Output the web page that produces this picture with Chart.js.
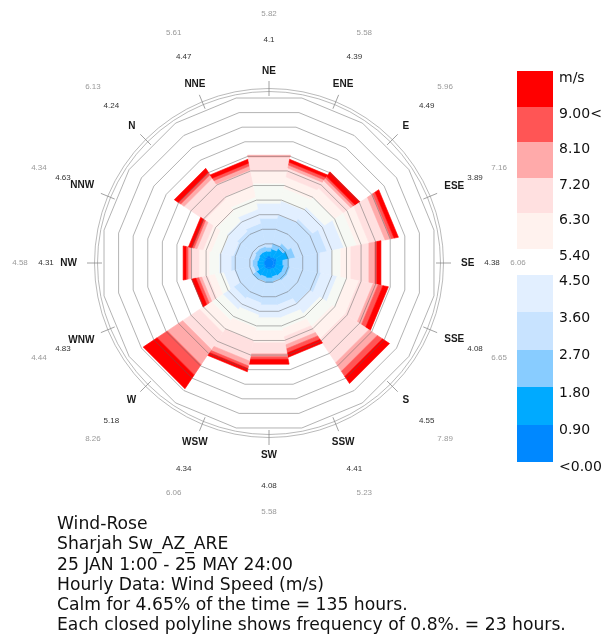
<!DOCTYPE html>
<html>
<head>
<meta charset="utf-8">
<script src="https://cdn.jsdelivr.net/npm/chart.js@4.4.1/dist/chart.umd.min.js"></script>
<style>
  body { margin: 0; background: #fff; }
  #wrap { position: absolute; left: 0; top: 0; width: 603px; height: 637px; }
  .cell { position: absolute; left: 517px; width: 36px; }
  .lab { position: absolute; left: 559px; font: 14px "DejaVu Sans", Verdana, sans-serif; color: #111; line-height: 14px; }
  #info { position: absolute; left: 57px; top: 513px; font: 17.2px "DejaVu Sans", Verdana, sans-serif; line-height: 20.3px; color: #111; white-space: pre; }
</style>
</head>
<body>
<div id="wrap"><canvas id="rose"></canvas></div>
<div id="legend"></div>
<div id="info"></div>
<script>
const directions = ['N', 'NNE', 'NE', 'ENE', 'E', 'ESE', 'SE', 'SSE', 'S', 'SSW', 'SW', 'WSW', 'W', 'WNW', 'NW', 'NNW'];
const avgSpeed = ['4.24', '4.47', '4.1', '4.39', '4.49', '3.89', '4.38', '4.08', '4.55', '4.41', '4.08', '4.34', '5.18', '4.83', '4.31', '4.63'];
const maxSpeed = ['6.13', '5.61', '5.82', '5.58', '5.96', '7.16', '6.06', '6.65', '7.89', '5.23', '5.58', '6.06', '8.26', '4.44', '4.58', '4.34'];

const speedBins = ['<0.90', '0.90-1.80', '1.80-2.70', '2.70-3.60', '3.60-4.50', '4.50-5.40', '5.40-6.30', '6.30-7.20', '7.20-8.10', '8.10-9.00', '9.00<'];
const binColors = ['#0088ff', '#00aaff', '#88ccff', '#c8e3ff', '#e2efff', '#f6f9f4', '#fff2ee', '#ffe0e0', '#ffaaaa', '#ff5555', '#ff0000'];

// frequency (% of hours) per speed bin, one value per direction (N .. NNW)
const freq0  = [0.02, 0.08, 0.13, 0.08, 0.13, 0.19, 0.13, 0.13, 0.13, 0.08, 0.08, 0.08, 0.08, 0.02, 0.02, 0.02];
const freq1  = [0.38, 0.33, 0.27, 0.44, 0.55, 0.66, 0.38, 0.44, 0.44, 0.44, 0.49, 0.44, 0.49, 0.38, 0.38, 0.33];
const freq2  = [0.26, 0.26, 0.22, 0.31, 0.33, 0.35, 0.35, 0.33, 0.33, 0.26, 0.28, 0.26, 0.28, 0.22, 0.26, 0.24];
const freq3  = [1.17, 1.28, 1.59, 1.56, 1.59, 1.74, 1.68, 1.70, 1.48, 1.28, 1.20, 1.17, 1.20, 1.04, 1.17, 1.13];
const freq4  = [0.66, 0.77, 0.82, 0.77, 0.77, 0.93, 0.66, 0.88, 0.66, 0.71, 0.71, 0.66, 0.71, 0.60, 0.66, 0.66];
const freq5  = [0.66, 0.66, 1.10, 0.71, 0.66, 0.71, 0.49, 0.55, 0.82, 0.60, 0.71, 0.71, 0.71, 0.49, 0.55, 0.55];
const freq6  = [0.77, 0.66, 0.66, 0.60, 0.55, 0.66, 0.55, 0.66, 0.82, 0.44, 0.66, 0.71, 0.77, 0.38, 0.55, 0.44];
const freq7  = [1.32, 0.82, 0.77, 0.49, 0.49, 0.88, 0.99, 0.77, 1.53, 0.44, 0.60, 1.10, 1.10, 0.33, 0.44, 0.33];
const freq8  = [0.22, 0.22, 0.10, 0.16, 0.16, 0.33, 0.33, 0.27, 0.55, 0.22, 0.16, 0.27, 0.99, 0.16, 0.16, 0.16];
const freq9  = [0.16, 0.16, 0.00, 0.16, 0.11, 0.16, 0.11, 0.27, 0.33, 0.22, 0.14, 0.14, 0.66, 0.16, 0.11, 0.11];
const freq10 = [0.26, 0.21, 0.00, 0.16, 0.31, 0.24, 0.22, 0.30, 0.46, 0.24, 0.27, 0.18, 0.90, 0.23, 0.16, 0.20];

const ringStep = 0.8;
const ringCount = 11;

const legendRed = ['m/s', '9.00<', '8.10', '7.20', '6.30', '5.40'];
const legendBlue = ['4.50', '3.60', '2.70', '1.80', '0.90', '<0.00'];

const infoLines = [
  'Wind-Rose',
  'Sharjah Sw_AZ_ARE',
  '25 JAN 1:00 - 25 MAY 24:00',
  'Hourly Data: Wind Speed (m/s)',
  'Calm for 4.65% of the time = 135 hours.',
  'Each closed polyline shows frequency of 0.8%. = 23 hours.'
];

const binData = [freq0, freq1, freq2, freq3, freq4, freq5, freq6, freq7, freq8, freq9, freq10];

// legend
const legend = document.getElementById('legend');
const addCell = (top, h, color) => {
  const el = document.createElement('div');
  el.className = 'cell';
  el.style.cssText = `top:${top}px;height:${h}px;background:${color};`;
  legend.appendChild(el);
};
const addLab = (top, text) => {
  const el = document.createElement('div');
  el.className = 'lab';
  el.style.top = (top - 7) + 'px';
  el.textContent = text;
  legend.appendChild(el);
};
[10, 9, 8, 7, 6].forEach((b, i) => addCell(71 + i * 35.6, 35.8, binColors[b]));
[4, 3, 2, 1, 0].forEach((b, i) => addCell(275 + i * 37.4, 37.6, binColors[b]));
legendRed.forEach((t, i) => addLab(77 + i * 35.6, t));
legendBlue.forEach((t, i) => addLab(280 + i * 37.2, t));

document.getElementById('info').textContent = infoLines.join('\n');

const rosePlugin = {
  id: 'rose',
  beforeDatasetsDraw(chart) {
    const s = chart.scales.r;
    const ctx = chart.ctx;
    const n = directions.length;
    ctx.save();
    for (let i = 0; i < n; i++) {
      let cum = 0;
      chart.data.datasets.forEach(ds => {
        const v = ds.data[i];
        if (!v) return;
        const d0 = s.getDistanceFromCenterForValue(cum);
        const d1 = s.getDistanceFromCenterForValue(cum + v);
        cum += v;
        const a = s.getPointPosition(i, d0);
        const b = s.getPointPosition(i + 1, d0);
        const c = s.getPointPosition(i + 1, d1);
        const e = s.getPointPosition(i, d1);
        ctx.beginPath();
        ctx.moveTo(a.x, a.y);
        ctx.lineTo(b.x, b.y);
        ctx.lineTo(c.x, c.y);
        ctx.lineTo(e.x, e.y);
        ctx.closePath();
        ctx.fillStyle = ds.backgroundColor;
        ctx.strokeStyle = ds.backgroundColor;
        ctx.lineWidth = 0.6;
        ctx.fill();
        ctx.stroke();
      });
    }
    // calm circle
    ctx.beginPath();
    ctx.arc(s.xCenter, s.yCenter, s.getDistanceFromCenterForValue(0), 0, Math.PI * 2);
    ctx.fillStyle = binColors[0];
    ctx.fill();
    ctx.restore();
  },
  afterDraw(chart) {
    const s = chart.scales.r;
    const ctx = chart.ctx;
    const n = directions.length;
    ctx.save();
    ctx.strokeStyle = '#a8a8a8';
    ctx.lineWidth = 0.8;
    [171.5, 174.5].forEach(r => {
      ctx.beginPath();
      ctx.arc(s.xCenter, s.yCenter, r, 0, Math.PI * 2);
      ctx.stroke();
    });
    ctx.textAlign = 'center';
    ctx.textBaseline = 'middle';
    for (let i = 0; i < n; i++) {
      const p0 = s.getPointPosition(i + 0.5, 167);
      const p1 = s.getPointPosition(i + 0.5, 182);
      ctx.strokeStyle = '#8a8a8a';
      ctx.beginPath();
      ctx.moveTo(p0.x, p0.y);
      ctx.lineTo(p1.x, p1.y);
      ctx.stroke();

      ctx.font = 'bold 10px "Liberation Sans", Arial, sans-serif';
      const w = ctx.measureText(directions[i]).width;
      const u = s.getPointPosition(i + 0.5, 1);
      const sx = u.x - s.xCenter;
      const lp = s.getPointPosition(i + 0.5, 192 + (w / 2) * sx * sx);
      ctx.fillStyle = '#1a1a1a';
      ctx.fillText(directions[i], lp.x, lp.y);

      ctx.font = '8px "Liberation Sans", Arial, sans-serif';
      const ap = s.getPointPosition(i + 0.5, 223);
      ctx.fillStyle = '#333';
      ctx.fillText(avgSpeed[i], ap.x, ap.y);
      const mp = s.getPointPosition(i + 0.5, 249);
      ctx.fillStyle = '#999';
      ctx.fillText(maxSpeed[i], mp.x, mp.y);
    }
    ctx.restore();
  }
};

new Chart(document.getElementById('rose'), {
  type: 'radar',
  data: {
    labels: directions,
    datasets: binData.map((d, i) => ({
      label: speedBins[i],
      data: d,
      backgroundColor: binColors[i],
      borderWidth: 0,
      pointRadius: 0,
      pointHoverRadius: 0,
      showLine: false,
      fill: false
    }))
  },
  options: {
    responsive: true,
    maintainAspectRatio: false,
    animation: false,
    layout: { padding: { left: 19, right: 84, top: 13, bottom: 124 } },
    plugins: { legend: { display: false }, tooltip: { enabled: false } },
    scales: {
      r: {
        min: -0.25,
        max: 13.2,
        startAngle: -56.25,
        afterBuildTicks: (scale) => {
          const ticks = [{ value: scale.min }];
          for (let k = 1; k <= ringCount; k++) ticks.push({ value: +(k * ringStep).toFixed(2) });
          scale.ticks = ticks;
        },
        ticks: { display: false },
        pointLabels: { display: false },
        angleLines: { display: false },
        grid: {
          z: 1,
          circular: false,
          color: (c) => c.tick && c.tick.value > 0 ? 'rgba(95,95,95,0.6)' : 'rgba(0,0,0,0)',
          lineWidth: 0.8
        }
      }
    }
  },
  plugins: [rosePlugin]
});
</script>
</body>
</html>
